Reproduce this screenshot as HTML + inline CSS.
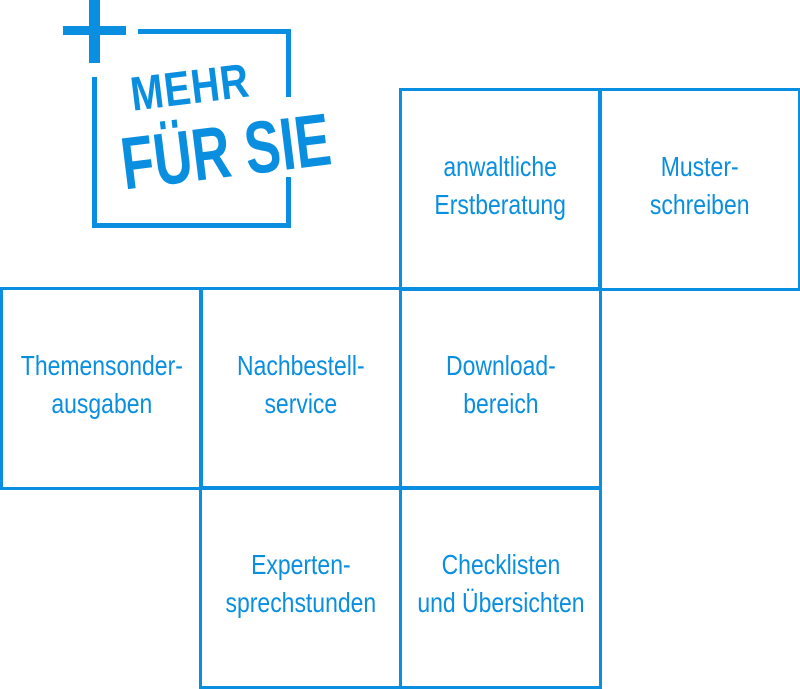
<!DOCTYPE html>
<html><head><meta charset="utf-8"><style>
html,body{margin:0;padding:0;background:#fff;}
body{width:800px;height:689px;position:relative;overflow:hidden;font-family:"Liberation Sans",sans-serif;color:#0a8fe0;}
.c{position:absolute;box-sizing:border-box;border:3px solid #0a8fe0;width:203px;height:203px;display:flex;align-items:center;justify-content:center;text-align:center;}
.c span{display:block;font-size:28px;line-height:38px;transform:translateY(-4px) scaleX(0.82);white-space:nowrap;}
.b{position:absolute;background:#0a8fe0;}
</style></head><body>
<div class="b" style="left:63px;top:26px;width:63px;height:9px"></div>
<div class="b" style="left:89px;top:0;width:11px;height:63px"></div>
<div class="b" style="left:138px;top:29px;width:152px;height:5px"></div>
<div class="b" style="left:286px;top:29px;width:5px;height:68px"></div>
<div class="b" style="left:286px;top:177px;width:5px;height:51px"></div>
<div class="b" style="left:92px;top:77px;width:5px;height:151px"></div>
<div class="b" style="left:92px;top:223px;width:199px;height:5px"></div>
<div style="position:absolute;left:128px;top:72px;font-weight:bold;font-size:48px;line-height:48px;transform:rotate(-7deg) scaleX(0.82);transform-origin:left top;letter-spacing:1px">MEHR</div>
<div style="position:absolute;left:117px;top:128px;font-weight:bold;font-size:74px;line-height:74px;transform:rotate(-7deg) scaleX(0.72);transform-origin:left top;white-space:nowrap">FÜR SIE</div>

<div class="c" style="left:399px;top:88px"><span>anwaltliche<br>Erstberatung</span></div>
<div class="c" style="left:598px;top:88px"><span>Muster-<br>schreiben</span></div>
<div class="c" style="left:0;top:287px"><span>Themensonder-<br>ausgaben</span></div>
<div class="c" style="left:199px;top:287px"><span>Nachbestell-<br>service</span></div>
<div class="c" style="left:399px;top:287px"><span>Download-<br>bereich</span></div>
<div class="c" style="left:199px;top:486px"><span>Experten-<br>sprechstunden</span></div>
<div class="c" style="left:399px;top:486px"><span>Checklisten<br>und Übersichten</span></div>
</body></html>
